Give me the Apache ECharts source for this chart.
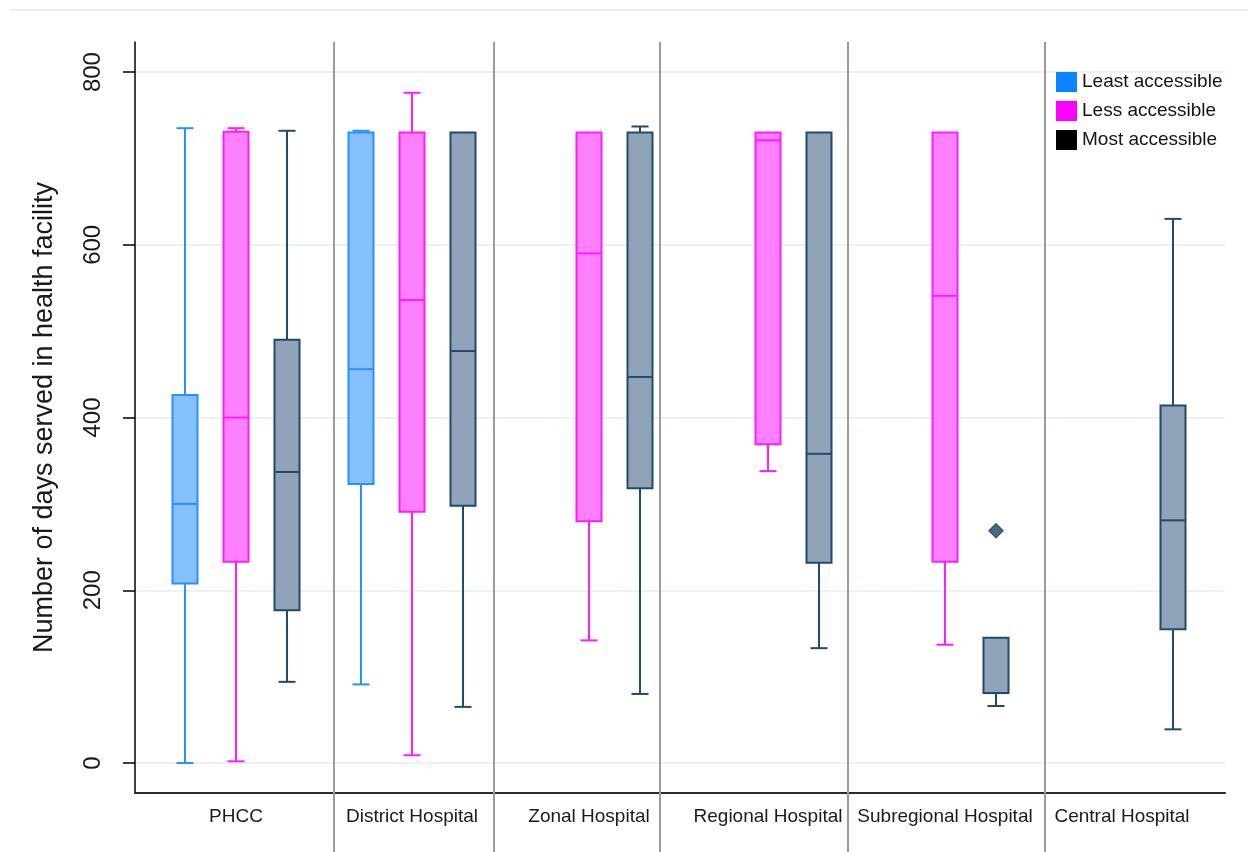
<!DOCTYPE html>
<html>
<head>
<meta charset="utf-8">
<script src="https://cdn.jsdelivr.net/npm/echarts@6/dist/echarts.min.js"></script>
<style>
  html, body { margin: 0; padding: 0; background: #ffffff; }
  #chart { width: 1248px; height: 852px; }
</style>
</head>
<body>
<div id="chart"></div>
<script>
// ---- data -------------------------------------------------------------
const facilities = ['PHCC', 'District Hospital', 'Zonal Hospital', 'Regional Hospital', 'Subregional Hospital', 'Central Hospital'];
const accessGroups = ['Least accessible', 'Less accessible', 'Most accessible'];

// five-number summaries per facility: [lower whisker, Q1, median, Q3, upper whisker]
const leastStats = [[0, 208, 300, 426, 735], [91, 323, 456, 730, 732], null, null, null, null];
const lessStats  = [[2, 233, 400, 731, 735], [9, 291, 536, 730, 776], [142, 280, 590, 730, 730], [338, 369, 721, 730, 730], [137, 233, 541, 730, 730], null];
const mostStats  = [[94, 177, 337, 490, 732], [65, 298, 477, 730, 730], [80, 318, 447, 730, 737], [133, 232, 358, 730, 730], [66, 81, 81, 145, 145], [39, 155, 281, 414, 630]];

// outside values: [facility index, days]
const mostOutliers = [[4, 269]];

const yTickValues = [0, 200, 400, 600, 800];

// ---- layout -----------------------------------------------------------
// the x axis runs in plot units; panels have their own widths
const panelEdges = [0, 199, 359, 525, 713, 910, 1090];
const firstSlot = [50, 27, 44, 57, 46, 26];
const slotStep = 51;
const slotX = (f, g) => panelEdges[f] + firstSlot[f] + g * slotStep;

const groupStyles = [
  { fill: '#85c1ff', stroke: '#2a90ff', legend: '#0a84ff' },
  { fill: '#ff80ff', stroke: '#ff1cff', legend: '#ff00ff' },
  { fill: '#8fa4b8', stroke: '#23496e', legend: '#000000' }
];
const outlierColor = '#1f4468';

const statsByGroup = [leastStats, lessStats, mostStats];

function boxRenderer(style) {
  return function (params, api) {
    const x = api.value(0);
    const lo = api.value(1), q1 = api.value(2), md = api.value(3), q3 = api.value(4), hi = api.value(5);
    const cx = api.coord([x, md])[0];
    const py = v => api.coord([x, v])[1];
    const hw = 12.5, cw = 8.5;
    const lineStyle = { stroke: style.stroke, lineWidth: 2 };
    const children = [];
    if (hi > q3) {
      children.push({ type: 'line', shape: { x1: cx, y1: py(q3), x2: cx, y2: py(hi) }, style: lineStyle });
      children.push({ type: 'line', shape: { x1: cx - cw, y1: py(hi), x2: cx + cw, y2: py(hi) }, style: lineStyle });
    }
    if (lo < q1) {
      children.push({ type: 'line', shape: { x1: cx, y1: py(q1), x2: cx, y2: py(lo) }, style: lineStyle });
      children.push({ type: 'line', shape: { x1: cx - cw, y1: py(lo), x2: cx + cw, y2: py(lo) }, style: lineStyle });
    }
    children.push({
      type: 'rect',
      shape: { x: cx - hw, y: py(q3), width: 2 * hw, height: py(q1) - py(q3) },
      style: { fill: style.fill, stroke: style.stroke, lineWidth: 2 }
    });
    children.push({ type: 'line', shape: { x1: cx - hw, y1: py(md), x2: cx + hw, y2: py(md) }, style: { stroke: style.stroke, lineWidth: 2 } });
    return { type: 'group', children };
  };
}

const boxSeries = accessGroups.map((name, g) => ({
  type: 'custom',
  name,
  itemStyle: { color: groupStyles[g].legend },
  renderItem: boxRenderer(groupStyles[g]),
  encode: { x: 0, y: [1, 2, 3, 4, 5] },
  data: statsByGroup[g]
    .map((s, f) => (s ? [slotX(f, g)].concat(s) : null))
    .filter(d => d !== null),
  z: 3
}));

const separatorSeries = {
  type: 'custom',
  name: 'panels',
  silent: true,
  clip: false,
  encode: { x: 0, y: 1 },
  data: panelEdges.slice(1, -1).map(e => [e, 0]),
  renderItem: function (params, api) {
    const x = api.coord([api.value(0), 0])[0];
    const top = api.coord([api.value(0), yMax])[1];
    const bottom = api.coord([api.value(0), yMin])[1] + 62;
    return { type: 'line', shape: { x1: x, y1: top, x2: x, y2: bottom }, style: { stroke: '#9b9b9b', lineWidth: 2 } };
  },
  z: 2
};

const outlierSeries = {
  type: 'scatter',
  name: 'outside values',
  symbol: 'diamond',
  symbolSize: 14,
  itemStyle: { color: outlierColor, borderColor: outlierColor, borderWidth: 1.5 },
  data: mostOutliers.map(([f, v]) => [slotX(f, 2), v]),
  z: 4
};

const yMin = -34.7, yMax = 834.8;
const labelAt = new Map(facilities.map((name, f) => [slotX(f, 1), name]));

const chart = echarts.init(document.getElementById('chart'), null, { renderer: 'canvas' });
chart.setOption({
  animation: false,
  backgroundColor: '#ffffff',
  textStyle: { fontFamily: '"Liberation Sans", Arial, sans-serif' },
  grid: { left: 135, right: 23, top: 42, bottom: 59 },
  legend: {
    data: accessGroups,
    orient: 'vertical',
    left: 1056,
    top: 72,
    padding: 0,
    itemWidth: 21,
    itemHeight: 20,
    itemGap: 9,
    icon: 'rect',
    textStyle: { fontSize: 19, color: '#141414', fontFamily: '"Liberation Sans", Arial, sans-serif' }
  },
  graphic: [{
    type: 'line',
    shape: { x1: 10, y1: 10, x2: 1248, y2: 10 },
    style: { stroke: '#e9f0f0', lineWidth: 2 },
    silent: true
  }],
  xAxis: {
    type: 'value',
    min: 0,
    max: panelEdges[panelEdges.length - 1],
    axisLine: { show: true, onZero: false, lineStyle: { color: '#2b2b2b', width: 2 } },
    axisTick: { show: false },
    splitLine: { show: false },
    axisLabel: {
      customValues: facilities.map((_, f) => slotX(f, 1)),
      formatter: v => labelAt.get(v) || '',
      fontSize: 19,
      color: '#1a1a1a',
      margin: 14
    }
  },
  yAxis: {
    type: 'value',
    min: yMin,
    max: yMax,
    name: 'Number of days served in health facility',
    nameLocation: 'middle',
    nameGap: 77,
    nameTextStyle: { fontSize: 27, color: '#1a1a1a' },
    axisLine: { show: true, onZero: false, lineStyle: { color: '#000000', width: 1.5 } },
    axisTick: { show: true, length: 12, customValues: yTickValues, lineStyle: { color: '#000000', width: 1.5 } },
    axisLabel: { customValues: yTickValues, rotate: 90, fontSize: 24, color: '#1a1a1a', margin: 30 },
    splitLine: { show: true, lineStyle: { color: '#e3eeee', width: 1.5 } }
  },
  series: [separatorSeries].concat(boxSeries, [outlierSeries])
});
</script>
</body>
</html>
